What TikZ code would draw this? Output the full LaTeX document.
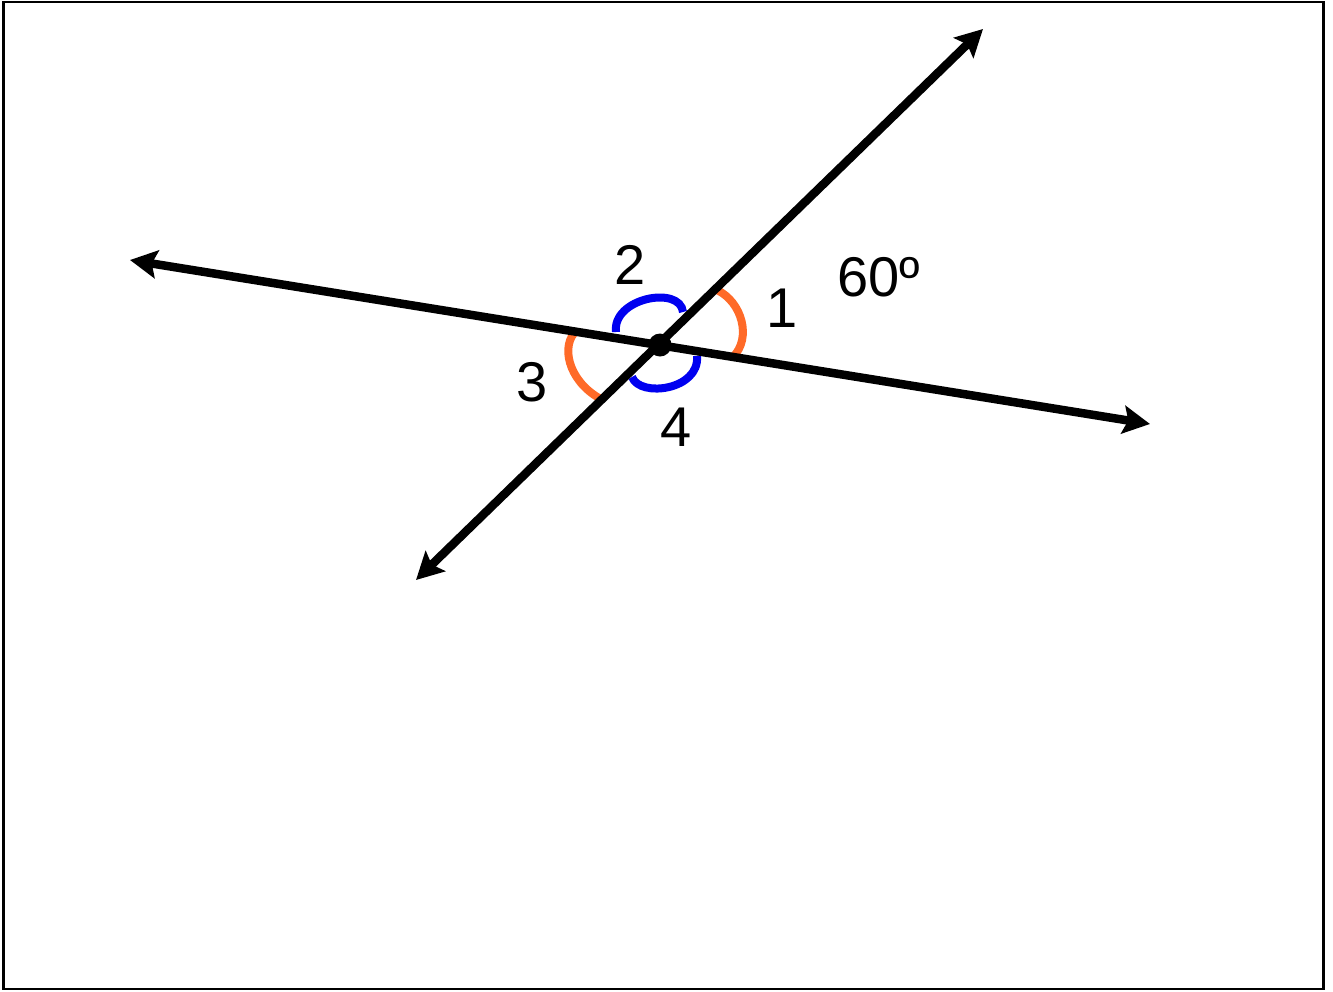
\documentclass[tikz,border=0pt]{standalone}
\usepackage{fontspec}
\setmainfont{Liberation Sans}
\usetikzlibrary{arrows.meta}
\definecolor{arcorange}{RGB}{255,106,40}
\definecolor{arcblue}{RGB}{0,0,240}
\tikzset{
  lineray/.style={line width=8.5pt, {Stealth[length=27pt,width=28pt,inset=5pt]}-{Stealth[length=27pt,width=28pt,inset=5pt]}},
  orangearc/.style={draw=arcorange, line width=8pt},
  bluearc/.style={draw=arcblue, line width=8pt},
  lbl/.style={font=\fontsize{56}{60}\selectfont, inner sep=0pt}
}
\begin{document}
\begin{tikzpicture}[x=1pt,y=-1pt]
\useasboundingbox (0,0) rectangle (1333,991);
\draw[line width=2.5pt] (3.5,2) rectangle (1323.5,989);
% endpoints
\coordinate (L) at (130,260);
\coordinate (R) at (1150,424);
\coordinate (UR) at (983,29);
\coordinate (DL) at (416,580);
\coordinate (O) at (660,345);
% angle arcs
\draw[orangearc] (717,290) .. controls (742,302) and (752,338) .. (733,357);
\draw[orangearc] (577,330) .. controls (560,345) and (568,380) .. (599,398);
\draw[bluearc] (616,332) .. controls (612,298) and (680,285) .. (683,312);
\draw[bluearc] (632,377) .. controls (640,398) and (700,390) .. (697,356);
% lines
\draw[lineray] (L) -- (R);
\draw[lineray] (DL) -- (UR);
\fill (O) circle (11.5);
% labels
\node[lbl] (n2) at (630,265) {2};
\node[lbl] (n1) at (782,308) {1};
\node[lbl] (n3) at (532,382) {3};
\node[lbl] (n4) at (676,427) {4};
\node[lbl] (n60) at (879,277) {60º};
\end{tikzpicture}
\end{document}
